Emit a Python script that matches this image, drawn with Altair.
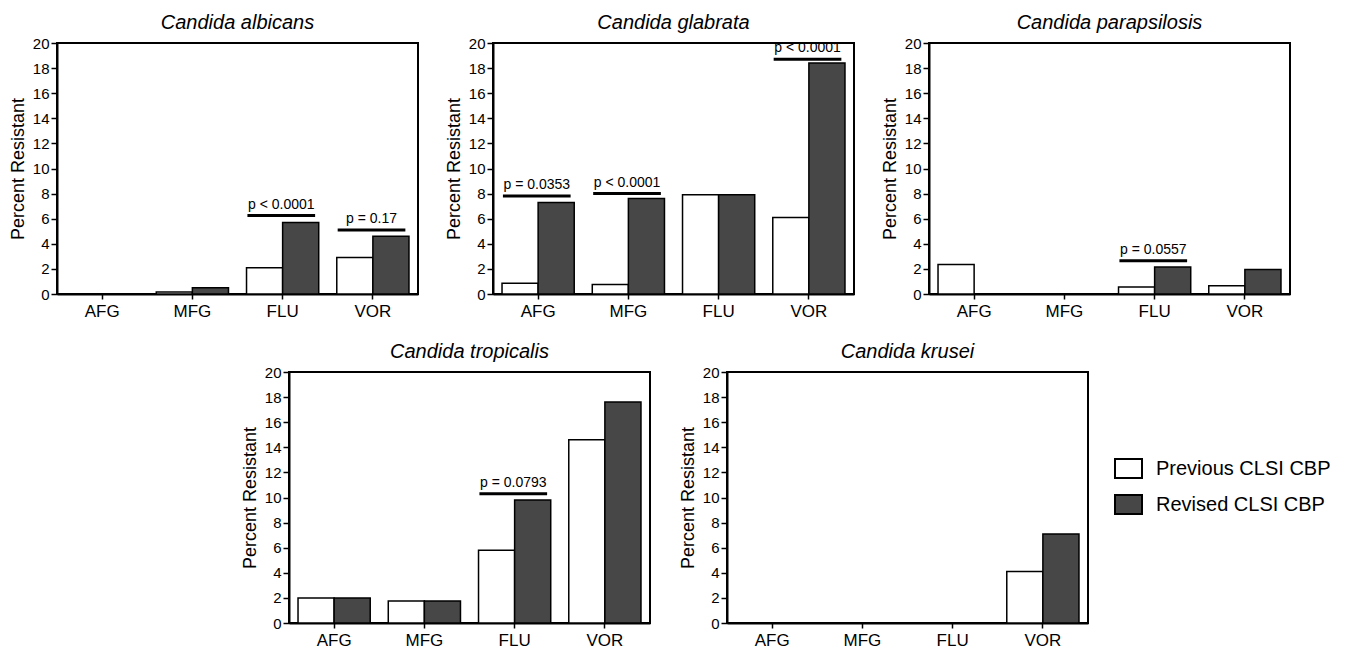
import altair as alt
import pandas as pd

FONT = "Liberation Sans"

species = ["Candida albicans", "Candida glabrata", "Candida parapsilosis",
           "Candida tropicalis", "Candida krusei"]
drugs = ["AFG", "MFG", "FLU", "VOR"]
groups = ["Previous CLSI CBP", "Revised CLSI CBP"]

# percent resistant, one row per species (order of `species`), columns = drugs
previous = [
    [0.0, 0.15, 2.1, 2.9],
    [0.85, 0.75, 7.9, 6.1],
    [2.35, 0.0, 0.55, 0.65],
    [2.0, 1.75, 5.8, 14.6],
    [0.0, 0.0, 0.0, 4.1],
]
revised = [
    [0.0, 0.5, 5.7, 4.6],
    [7.3, 7.6, 7.9, 18.4],
    [0.0, 0.0, 2.15, 1.95],
    [2.0, 1.75, 9.8, 17.6],
    [0.0, 0.0, 0.0, 7.1],
]

# significance annotations
ann_species = ["Candida albicans", "Candida albicans", "Candida glabrata",
               "Candida glabrata", "Candida glabrata", "Candida parapsilosis",
               "Candida tropicalis"]
ann_drug = ["FLU", "VOR", "AFG", "MFG", "VOR", "FLU", "FLU"]
ann_level = [6.25, 5.1, 7.8, 8.0, 18.7, 2.65, 10.3]
ann_text = ["p < 0.0001", "p = 0.17", "p = 0.0353", "p < 0.0001",
            "p < 0.0001", "p = 0.0557", "p = 0.0793"]

y_ticks = [0, 2, 4, 6, 8, 10, 12, 14, 16, 18, 20]

rows = []
for si, sp in enumerate(species):
    for di, d in enumerate(drugs):
        rows.append({"species": sp, "drug": d, "group": groups[0], "value": previous[si][di]})
        rows.append({"species": sp, "drug": d, "group": groups[1], "value": revised[si][di]})
bars_df = pd.DataFrame(rows)

ann_df = pd.DataFrame({
    "species": ann_species,
    "drug": ann_drug,
    "idx": [drugs.index(d) for d in ann_drug],
    "level": ann_level,
    "label": ann_text,
})

W, H = 361, 251
YT = "Percent Resistant"
yscale = alt.Scale(domain=[0, 20], nice=False)


def yaxis():
    return alt.Axis(values=y_ticks, labelFontSize=15, titleFontSize=18,
                    titlePadding=5, tickSize=6, labelPadding=2)


def panel(sp):
    bars = alt.Chart(bars_df).transform_filter(
        alt.datum.species == sp
    ).mark_bar(stroke="black", strokeWidth=1.5).encode(
        x=alt.X("drug:N", sort=drugs,
                scale=alt.Scale(domain=drugs, paddingInner=0.2, paddingOuter=0.1),
                axis=alt.Axis(title=None, labelAngle=0, labelFontSize=17,
                              labelPadding=4, tickSize=5)),
        xOffset=alt.XOffset("group:N", sort=groups,
                            scale=alt.Scale(domain=groups, paddingInner=0, paddingOuter=0)),
        y=alt.Y("value:Q", title=YT, scale=yscale, axis=yaxis()),
        color=alt.Color("group:N",
                        scale=alt.Scale(domain=groups, range=["white", "#474747"]),
                        legend=alt.Legend(
                            title=None, orient="none", legendX=1057, legendY=411,
                            symbolType="M-1,-0.7L1,-0.7L1,0.7L-1,0.7Z",
                            symbolSize=729, symbolStrokeColor="black",
                            symbolStrokeWidth=2, labelFontSize=20, labelFont=FONT,
                            labelColor="black", labelOffset=13, rowPadding=8,
                            labelLimit=400)),
    )
    ann = alt.Chart(ann_df).transform_filter(
        alt.datum.species == sp
    ).transform_calculate(
        xa="datum.idx + 0.11", xb="datum.idx + 0.86", xm="datum.idx + 0.485"
    )
    rules = ann.mark_rule(strokeWidth=3, color="black").encode(
        x=alt.X("xa:Q", scale=alt.Scale(domain=[0, 4], nice=False, zero=False), axis=None),
        x2="xb:Q",
        y=alt.Y("level:Q", title=YT, scale=yscale, axis=yaxis()),
    )
    texts = ann.mark_text(fontSize=14, font=FONT, color="black",
                          baseline="alphabetic", dy=-7).encode(
        x=alt.X("xm:Q", scale=alt.Scale(domain=[0, 4], nice=False, zero=False), axis=None),
        y=alt.Y("level:Q", title=YT, scale=yscale, axis=yaxis()),
        text="label:N",
    )
    return alt.layer(bars, rules, texts).resolve_scale(x="independent").properties(
        width=W, height=H,
        title=alt.TitleParams(text=sp, fontSize=20, fontStyle="italic",
                              fontWeight="normal", font=FONT, color="black",
                              offset=3, anchor="middle"),
    )


spacer = alt.Chart(pd.DataFrame({"a": [0]})).mark_point(opacity=0).encode(
    x=alt.value(50), y=alt.value(100)
).properties(width=156, height=H, view=alt.ViewBackground(stroke=None))

top = alt.hconcat(panel(species[0]), panel(species[1]), panel(species[2]), spacing=25)
bottom = alt.hconcat(spacer, panel(species[3]), panel(species[4]), spacing=27)

chart = alt.vconcat(top, bottom, spacing=21).properties(
    padding={"left": 0, "top": 4, "right": 0, "bottom": 0}
).configure(font=FONT).configure_view(
    stroke="black", strokeWidth=2
).configure_axis(
    grid=False, domainColor="black", domainWidth=2, tickColor="black",
    tickWidth=1.5, labelColor="black", titleColor="black", labelFont=FONT,
    titleFont=FONT, titleFontWeight="normal"
).configure_axisY(
    labelFontSize=15, titleFontSize=18, titlePadding=5, tickSize=6, labelPadding=2
).configure_axisX(
    labelFontSize=17, labelPadding=4, tickSize=5
)

chart.save("out.html", embed_options={"renderer": "svg", "actions": False})
